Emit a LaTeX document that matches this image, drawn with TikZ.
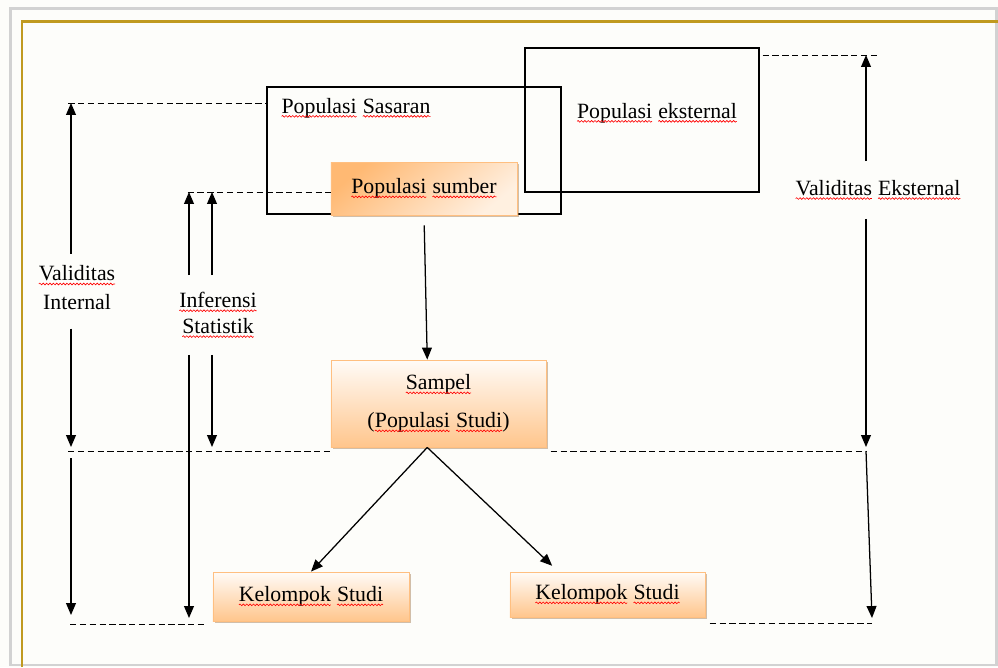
\documentclass[tikz,border=0pt]{standalone}
\usepackage{fontspec}
\setmainfont{Liberation Serif}
\usetikzlibrary{arrows.meta,shadows,decorations.pathmorphing}
\definecolor{pagebg}{HTML}{FDFDFA}
\definecolor{goldline}{HTML}{C09A20}
\newcommand{\sq}[1]{\tikz[baseline=(sqw.base)]{\node[inner sep=0pt,outer sep=0pt,minimum width=0pt,minimum height=0pt,anchor=base,draw=none,shape=rectangle] (sqw) at (0,0) {#1}; \draw[red,line width=0.45pt,decorate,decoration={snake,amplitude=0.6pt,segment length=2.4pt}] ([yshift=-2.2pt]sqw.base west) -- ([yshift=-2.2pt]sqw.base east);}}

\begin{document}
\begin{tikzpicture}[x=0.025cm,y=-0.025cm,font=\fontsize{15.5}{20}\selectfont,
framebox/.style={draw=black,line width=1pt},
peachbox/.style={draw=orange!50,line width=0.6pt,top color=orange!3,bottom color=orange!45,inner sep=0pt,drop shadow={shadow xshift=1.5pt,shadow yshift=-1.5pt,fill=brown!60!gray,opacity=0.5}},
measure/.style={line width=0.9pt,-{Triangle[length=8.5pt,width=7pt]}},
flow/.style={line width=0.9pt,-{Triangle[length=8.5pt,width=7pt]}},
guide/.style={line width=0.7pt,dash pattern=on 4.5pt off 2.5pt}]
% page and frame
\fill[pagebg] (0,0) rectangle (998,667);
\useasboundingbox (0,0) rectangle (998,667);
\draw[gray!35,line width=2pt] (10.5,8.5) rectangle (996.5,665);
\draw[goldline,line width=1.8pt] (22,667) -- (22,21.5) -- (998,21.5);
% populations
\node[framebox,minimum width=7.35cm,minimum height=3.175cm] (sasaran) at (414,150.5) {};
\node[anchor=west,inner sep=0pt] (sasaranlbl) at (281,108) {\sq{Populasi} \sq{Sasaran}};
\node[framebox,minimum width=5.85cm,minimum height=3.6cm] (eksternal) at (642,120) {};
\node (eksternallbl) at (657,113) {\sq{Populasi} \sq{eksternal}};
\node[peachbox,top color=orange!55,bottom color=orange!12,shading angle=40,minimum width=4.65cm,minimum height=1.325cm] (sumber) at (424,188.5) {\sq{Populasi} \sq{sumber}\hspace{5pt}};
\node[peachbox,align=center,minimum width=5.375cm,minimum height=2.175cm] (sampel) at (438.5,403.5) {\sq{Sampel}\\[7pt](\sq{Populasi} \sq{Studi})};
\node[peachbox,minimum width=4.9cm,minimum height=1.225cm] (kelompokA) at (311,596.5) {\sq{Kelompok} \sq{Studi}};
\node[peachbox,minimum width=4.875cm,minimum height=1.125cm] (kelompokB) at (607.5,594.5) {\sq{Kelompok} \sq{Studi}\hspace{14pt}};
\draw[flow,shorten <=7pt] (sumber.south) -- ([xshift=-8pt]sampel.north);
\draw[flow] ([xshift=-8pt]sampel.south) -- (kelompokA.north);
\draw[flow,shorten >=6pt] ([xshift=-8pt]sampel.south) -- ([xshift=-35pt]kelompokB.north);
% validitas internal
\coordinate (vitop) at (71,103); \coordinate (vimid) at (71,447); \coordinate (vimidB) at (71,458); \coordinate (vibot) at (71,615);
\node[align=center,inner xsep=2pt,inner ysep=8.5pt] (vilbl) at (77,287.5) {\sq{Validitas}\\Internal};
\draw[guide] ([xshift=-2pt]vitop) -- (sasaran.west |- vitop);
\draw[measure] (vilbl.north -| vitop) -- (vitop);
\draw[measure,shorten <=5pt] (vilbl.south -| vitop) -- (vimid);
\draw[measure] (vimidB) -- (vibot);
% inferensi statistik
\coordinate (istopA) at (189,192); \coordinate (istopB) at (212,192); \coordinate (isbotA) at (189,618); \coordinate (isbotB) at (212,447);
\node[align=center,inner xsep=2pt,inner ysep=12pt] (islbl) at (218,315) {\sq{Inferensi}\\[-1.6pt]\sq{Statistik}};
\draw[guide] ([xshift=-1pt]istopA) -- (sumber.west |- istopA);
\draw[measure] (islbl.north -| istopA) -- (istopA);
\draw[measure] (islbl.north -| istopB) -- (istopB);
\draw[measure] (islbl.south -| isbotA) -- (isbotA);
\draw[measure] (islbl.south -| isbotB) -- (isbotB);
% validitas eksternal
\coordinate (vetop) at (866,55); \coordinate (vemid) at (866,447); \coordinate (vemidB) at (866,451); \coordinate (vebot) at (872,618);
\coordinate (vedash) at (880,55);
\node[inner xsep=2pt,inner ysep=13.5pt] (velbl) at (878,190) {\sq{Validitas} \sq{Eksternal}};
\draw[guide] ([xshift=2pt]eksternal.east |- vetop) -- (vedash);
\draw[measure] (velbl.north -| vetop) -- (vetop);
\draw[measure] (velbl.south -| vetop) -- (vemid);
\draw[measure] (vemidB) -- (vebot);
% limits
\coordinate (midL) at (68,451); \coordinate (botL) at (70,624); \coordinate (botR) at (872,623);
\draw[guide] (midL) -- ([xshift=1pt]sampel.west |- midL);
\draw[guide] ([xshift=3pt]sampel.east |- midL) -- (vemidB);
\draw[guide] (botL) -- ([xshift=-4pt]kelompokA.west |- botL);
\draw[guide] ([xshift=3pt]kelompokB.east |- botR) -- (botR);
\end{tikzpicture}
\end{document}
